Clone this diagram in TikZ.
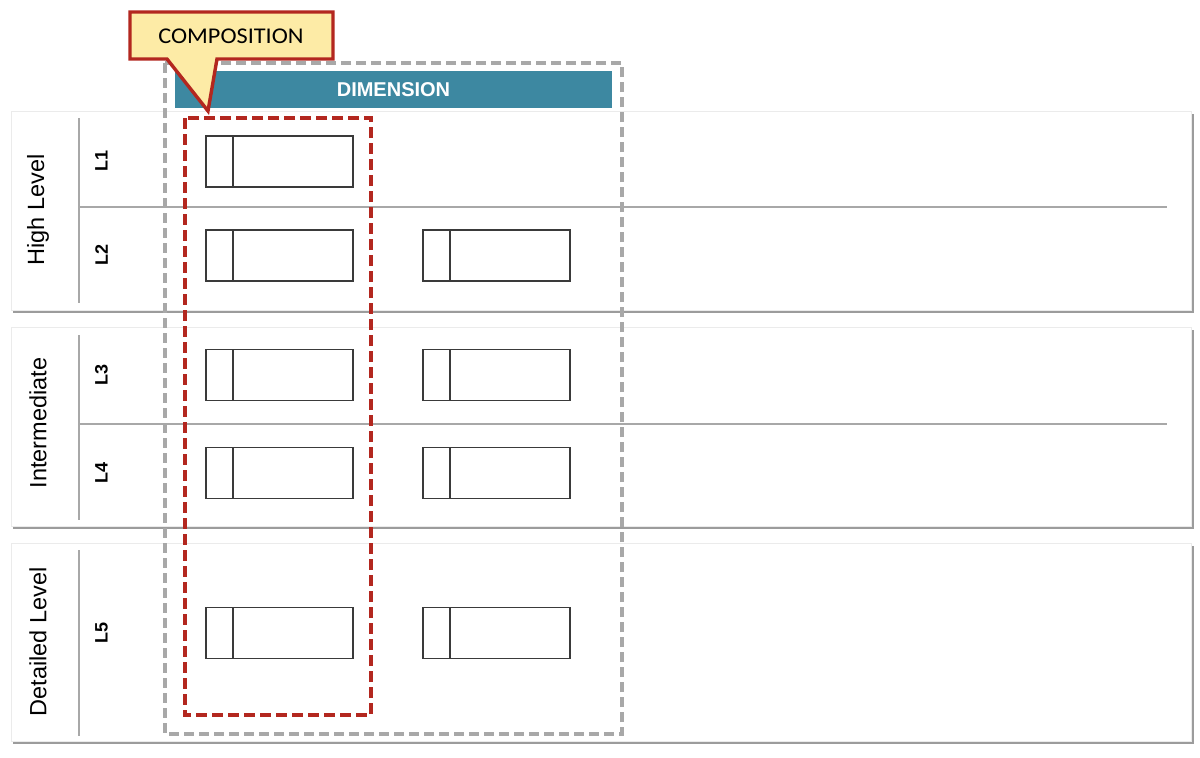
\documentclass[tikz,border=0pt]{standalone}
\usepackage{fontspec}
\setmainfont{Liberation Sans}
\newfontfamily\calib{Carlito}
\definecolor{teal1}{HTML}{3D88A1}
\definecolor{redd}{HTML}{B3271F}
\definecolor{callfill}{HTML}{FDEBA6}
\definecolor{dgray}{HTML}{A8A8A8}
\definecolor{shad}{HTML}{9C9C9C}
\definecolor{pline}{HTML}{A8A8A8}
\definecolor{cellline}{HTML}{3A3A3A}
\tikzset{
  panelbox/.style={fill=white, draw=black!8, line width=0.8pt},
  panelshadow/.style={fill=shad},
  sepline/.style={draw=pline, line width=1.3pt},
  cell/.style={draw=cellline, line width=1.1pt, fill=white, minimum width=147pt, minimum height=51pt, inner sep=0pt, outer sep=0pt},
  celldiv/.style={draw=cellline, line width=1.1pt},
  grouplabel/.style={rotate=90, font=\fontsize{23.5}{27}\selectfont, inner sep=0pt},
  levellabel/.style={rotate=90, font=\bfseries\fontsize{18}{21}\selectfont, inner sep=0pt},
  graydash/.style={draw=dgray, line width=3.2pt, dash pattern=on 10pt off 5pt},
  reddash/.style={draw=redd, line width=3.5pt, dash pattern=on 11pt off 5pt},
}
\begin{document}
\begin{tikzpicture}[x=1pt,y=-1pt]
\useasboundingbox (0,0) rectangle (1200,758);
\fill[white] (0,0) rectangle (1200,758);
% panels with shadow
\foreach \t/\b in {111/310, 327/526, 543/741}{
  \fill[panelshadow] (13,\t+2.5) rectangle (1193.5,\b+2.5);
  \draw[panelbox] (11,\t) rectangle (1191,\b);
}
% separators
\draw[sepline] (79,118) -- (79,303);
\draw[sepline] (79,335) -- (79,520);
\draw[sepline] (79,550) -- (79,736);
\draw[sepline] (79,207) -- (1167,207);
\draw[sepline] (79,424) -- (1167,424);
% group labels
\node[grouplabel] (hl) at (38,210) {High Level};
\node[grouplabel] (im) at (38,423) {Intermediate};
\node[grouplabel] (dl) at (38,642) {Detailed Level};
% level labels
\node[levellabel] (l1) at (101.5,161) {L1};
\node[levellabel] (l2) at (101.5,255) {L2};
\node[levellabel] (l3) at (101.5,375) {L3};
\node[levellabel] (l4) at (101.5,473) {L4};
\node[levellabel] (l5) at (101.5,633) {L5};
% cells
\foreach \n/\x/\y in {a1/279.5/161.5, a2/279.5/255.5, b2/496.5/255.5, a3/279.5/375, b3/496.5/375, a4/279.5/473, b4/496.5/473, a5/279.5/633, b5/496.5/633}{
  \node[cell] (\n) at (\x,\y) {};
  \draw[celldiv] ([xshift=27pt]\n.north west) -- ([xshift=27pt]\n.south west);
}
% dashed frames
\draw[graydash] (165,63) rectangle (622,734);
\draw[reddash] (185,118) rectangle (371,715);
% dimension bar
\node[fill=teal1, minimum width=437pt, minimum height=37pt, inner sep=0pt, text=white, font=\bfseries\fontsize{20}{23}\selectfont] (dim) at (393.5,89.5) {DIMENSION};
% callout
\draw[fill=callfill, draw=redd, line width=3.4pt, line join=miter] (130,12) -- (333,12) -- (333,59) -- (217,59) -- (208,111) -- (167,59) -- (130,59) -- cycle;
\node[font=\calib\fontsize{22.5}{26}\selectfont, xscale=1.08, inner sep=0pt] (comp) at (231,36) {COMPOSITION};
\end{tikzpicture}
\end{document}
